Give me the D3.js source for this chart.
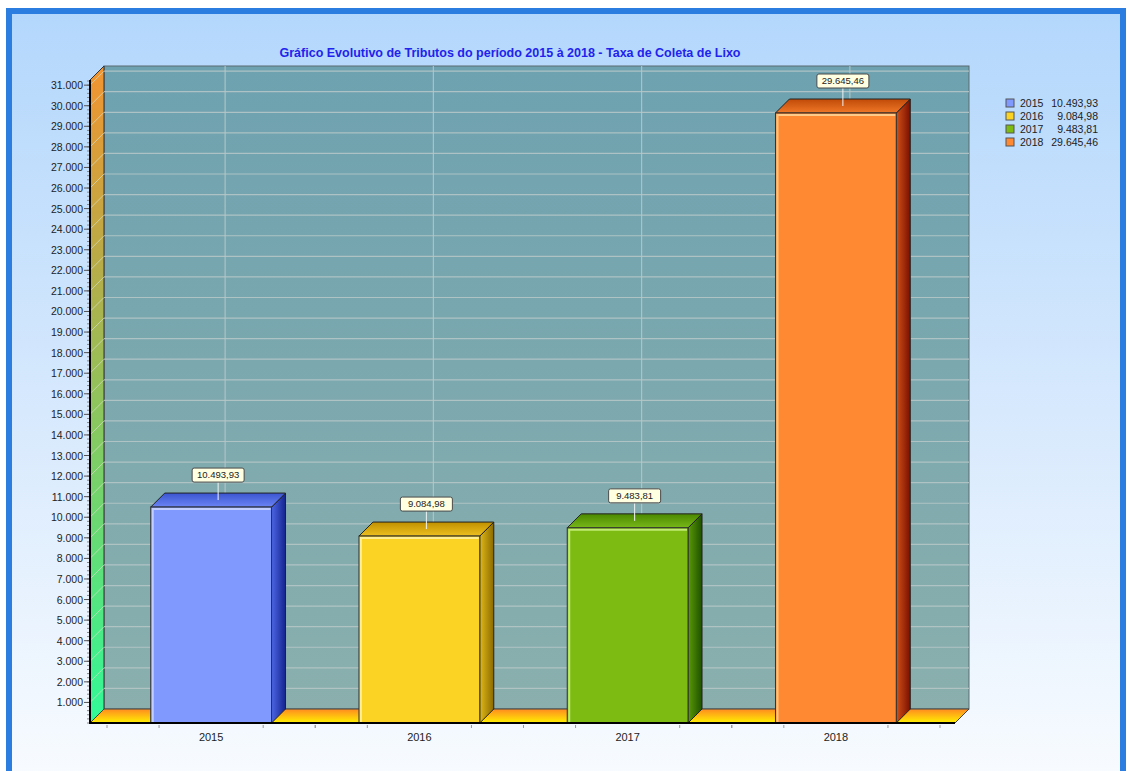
<!DOCTYPE html>
<html>
<head>
<meta charset="utf-8">
<script src="https://cdn.jsdelivr.net/npm/d3@7"></script>
<style>
html,body{margin:0;padding:0;background:#fff;}
svg{display:block;font-family:"Liberation Sans",Arial,sans-serif;}
</style>
</head>
<body>
<svg id="chart" width="1129" height="771"></svg>
<script>
const categories = ["2015", "2016", "2017", "2018"];
const values = [10493.93, 9084.98, 9483.81, 29645.46];
const yTickValues = [1000,2000,3000,4000,5000,6000,7000,8000,9000,10000,11000,12000,13000,14000,15000,16000,17000,18000,19000,20000,21000,22000,23000,24000,25000,26000,27000,28000,29000,30000,31000];
const titleText = "Gráfico Evolutivo de Tributos do período 2015 à 2018 - Taxa de Coleta de Lixo";
const yMax = 31250;

const palette = [
  {front:"#8099ff", sideA:"#4d66e6", sideB:"#14238c", topA:"#3a55d0", topB:"#6b84f5", hl:"#c8d4ff"},
  {front:"#fbd325", sideA:"#e0b818", sideB:"#8a6a00", topA:"#c09000", topB:"#eec020", hl:"#fff0a0"},
  {front:"#7dbb12", sideA:"#5a9a08", sideB:"#1f5000", topA:"#4a8800", topB:"#78b818", hl:"#c8f080"},
  {front:"#ff8833", sideA:"#d05018", sideB:"#7a1000", topA:"#c04a08", topB:"#f07828", hl:"#ffd090"}
];

const loc = d3.formatLocale({decimal:",", thousands:".", grouping:[3], currency:["",""]});
const fmtInt = loc.format(",.0f");
const fmtDec = loc.format(",.2f");

const svg = d3.select("#chart");
const defs = svg.append("defs");

function lin(id, x1,y1,x2,y2, stops){
  const g = defs.append("linearGradient").attr("id",id)
    .attr("x1",x1).attr("y1",y1).attr("x2",x2).attr("y2",y2);
  stops.forEach(s=>g.append("stop").attr("offset",s[0]).attr("stop-color",s[1]));
}
lin("bg","0","0","0","1",[[0,"#b3d7fc"],[0.5,"#d7e9fd"],[1,"#fbfdff"]]);
lin("backwall","0","0","0","1",[[0,"#6ea2b0"],[1,"#8aafad"]]);
lin("leftwall","0","0","0","1",[[0,"#f29430"],[0.3,"#b8ac48"],[0.55,"#88c860"],[1,"#30fa98"]]);
lin("floor","0","0","0","1",[[0,"#ff8a20"],[1,"#fff200"]]);
palette.forEach((p,i)=>{
  lin("side"+i,"0","0","1","0",[[0,p.sideA],[1,p.sideB]]);
  lin("top"+i,"0","0","0","1",[[0,p.topA],[1,p.topB]]);
});

// background panel
svg.append("rect").attr("x",9).attr("y",11).attr("width",1114).attr("height",800)
  .attr("fill","url(#bg)").attr("stroke","#2b7de0").attr("stroke-width",6);

const D = 14; // 3D depth
const x0 = 90, xEnd = 955, yBase = 723;
const y = d3.scaleLinear().domain([0, yMax]).range([yBase, 80]);
const x = d3.scaleBand().domain(categories).range([107, 940]).padding(0);
const barW = x.bandwidth() * 0.58;

// back wall
svg.append("rect").attr("x",x0+D).attr("y",y(yMax)-D).attr("width",xEnd-x0).attr("height",yBase-y(yMax))
  .attr("fill","url(#backwall)").attr("stroke","#5a6a70").attr("stroke-width",1);

// left wall
svg.append("path")
  .attr("d",`M${x0},${y(yMax)} L${x0+D},${y(yMax)-D} L${x0+D},${yBase-D} L${x0},${yBase} Z`)
  .attr("fill","url(#leftwall)").attr("stroke","#333").attr("stroke-width",1);

// grid lines
const grid = svg.append("g");
yTickValues.forEach(v=>{
  const yy = y(v);
  grid.append("line").attr("x1",x0+D).attr("x2",xEnd+D).attr("y1",yy-D).attr("y2",yy-D)
    .attr("stroke","#b8c8c8").attr("stroke-width",1.2).attr("opacity",0.85);
  grid.append("line").attr("x1",x0).attr("x2",x0+D).attr("y1",yy).attr("y2",yy-D)
    .attr("stroke","#d8e0c8").attr("stroke-width",1).attr("opacity",0.7);
});
categories.forEach(c=>{
  const cx = x(c)+x.bandwidth()/2 + D;
  grid.append("line").attr("x1",cx).attr("x2",cx).attr("y1",y(yMax)-D).attr("y2",yBase-D)
    .attr("stroke","#b8c8c8").attr("stroke-width",1.2).attr("opacity",0.85);
});

// floor
svg.append("path")
  .attr("d",`M${x0},${yBase} L${x0+D},${yBase-D} L${xEnd+D},${yBase-D} L${xEnd},${yBase} Z`)
  .attr("fill","url(#floor)").attr("stroke","#444").attr("stroke-width",1);

// bars
const bars = svg.append("g");
categories.forEach((c,i)=>{
  const p = palette[i];
  const v = values[i];
  const cx = x(c)+x.bandwidth()/2;
  const bx0 = cx - barW/2, bx1 = cx + barW/2;
  const yv = y(v);
  const g = bars.append("g");
  g.append("path")
    .attr("d",`M${bx1},${yv} L${bx1+D},${yv-D} L${bx1+D},${yBase-D} L${bx1},${yBase} Z`)
    .attr("fill",`url(#side${i})`).attr("stroke","#222").attr("stroke-width",1);
  g.append("path")
    .attr("d",`M${bx0},${yv} L${bx0+D},${yv-D} L${bx1+D},${yv-D} L${bx1},${yv} Z`)
    .attr("fill",`url(#top${i})`).attr("stroke","#222").attr("stroke-width",1);
  g.append("rect").attr("x",bx0).attr("y",yv).attr("width",barW).attr("height",yBase-yv)
    .attr("fill",p.front).attr("stroke","#333").attr("stroke-width",1);
  g.append("path")
    .attr("d",`M${bx0+2},${yBase-1} L${bx0+2},${yv+2} L${bx1-1},${yv+2}`)
    .attr("fill","none").attr("stroke",p.hl).attr("stroke-width",2).attr("opacity",0.9);

  // value label
  const lx = cx + D/2;
  const boxBottom = yv - 25;
  g.append("line").attr("x1",lx).attr("x2",lx).attr("y1",boxBottom).attr("y2",yv-7)
    .attr("stroke","#f0f4f4").attr("stroke-width",1);
  const t = fmtDec(v);
  const bw = 52, bh = 14;
  g.append("rect").attr("x",lx-bw/2).attr("y",boxBottom-bh).attr("width",bw).attr("height",bh)
    .attr("rx",2).attr("fill","#ffffe1").attr("stroke","#4a4a4a").attr("stroke-width",1);
  g.append("text").attr("x",lx).attr("y",boxBottom-4).attr("text-anchor","middle")
    .attr("font-size","9.5px").attr("fill","#222").text(t);
});

// y axis
const yAxisG = svg.append("g");
d3.range(0, yMax, 200).forEach(v=>{
  yAxisG.append("line").attr("x1",x0-3).attr("x2",x0).attr("y1",y(v)).attr("y2",y(v))
    .attr("stroke","#888").attr("stroke-width",1);
});
yTickValues.forEach(v=>{
  yAxisG.append("line").attr("x1",x0-6).attr("x2",x0).attr("y1",y(v)).attr("y2",y(v))
    .attr("stroke","#555").attr("stroke-width",1);
  yAxisG.append("text").attr("x",x0-7).attr("y",y(v)+4).attr("text-anchor","end")
    .attr("font-size","10.5px").attr("fill","#222").text(fmtInt(v));
});
svg.append("line").attr("x1",x0).attr("x2",x0).attr("y1",y(yMax)).attr("y2",yBase+1)
  .attr("stroke","#000").attr("stroke-width",2);

// x axis
const xAxisG = svg.append("g");
categories.forEach(c=>{
  const s = x(c), w = x.bandwidth();
  [0,0.25,0.75,1].forEach(f=>{
    xAxisG.append("line").attr("x1",s+f*w).attr("x2",s+f*w).attr("y1",yBase+2).attr("y2",yBase+5)
      .attr("stroke","#999").attr("stroke-width",1);
  });
  xAxisG.append("text").attr("x",s+w/2).attr("y",yBase+18).attr("text-anchor","middle")
    .attr("font-size","11px").attr("fill","#222").text(c);
});
svg.append("line").attr("x1",x0-1).attr("x2",xEnd).attr("y1",yBase).attr("y2",yBase)
  .attr("stroke","#000").attr("stroke-width",2);

// title
svg.append("text").attr("x",510).attr("y",57).attr("text-anchor","middle")
  .attr("font-size","12.5px").attr("font-weight","bold").attr("fill","#2222ee").text(titleText);

// legend
const leg = svg.append("g");
categories.forEach((c,i)=>{
  const ly = 103 + i*13;
  leg.append("rect").attr("x",1006).attr("y",ly-4).attr("width",8).attr("height",8)
    .attr("fill",palette[i].front).attr("stroke","#555").attr("stroke-width",1);
  leg.append("text").attr("x",1020).attr("y",ly+4).attr("font-size","10.5px").attr("fill","#222").text(c);
  leg.append("text").attr("x",1098).attr("y",ly+4).attr("text-anchor","end")
    .attr("font-size","10.5px").attr("fill","#222").text(fmtDec(values[i]));
});
</script>
</body>
</html>
